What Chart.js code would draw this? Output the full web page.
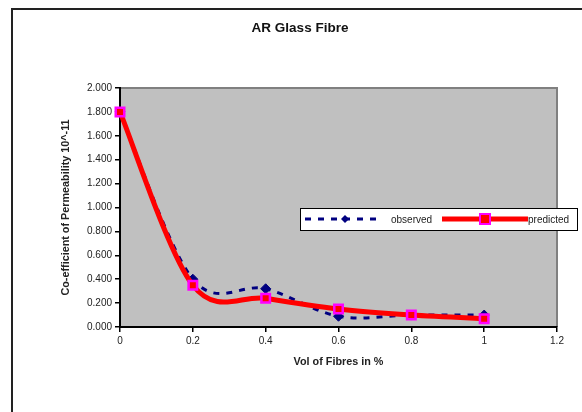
<!DOCTYPE html>
<html>
<head>
<meta charset="utf-8">
<script src="https://cdn.jsdelivr.net/npm/chart.js@4.4.1/dist/chart.umd.min.js"></script>
<style>
	html, body { margin: 0; padding: 0; background: #ffffff; }
	#wrap { width: 582px; height: 412px; position: relative; }
</style>
</head>
<body>
<div id="wrap"><canvas id="chart" width="582" height="412"></canvas></div>
<script>
// values
const volFibres = [0, 0.2, 0.4, 0.6, 0.8, 1.0];
const observed = [1.80, 0.40, 0.32, 0.09, 0.10, 0.10];
const predicted = [1.80, 0.35, 0.24, 0.15, 0.10, 0.07];
const xTickLabels = ['0', '0.2', '0.4', '0.6', '0.8', '1', '1.2'];
const yTickLabels = ['0.000', '0.200', '0.400', '0.600', '0.800', '1.000',
	'1.200', '1.400', '1.600', '1.800', '2.000'];

const FONT = '"Liberation Sans", Arial, sans-serif';
const NAVY = '#000080';
const RED = '#ff0000';
const MAGENTA = '#ff00ff';

// gray plot area with darker border on top and right, plus the outer frame
const backdrop = {
	id: 'backdrop',
	beforeDraw(chart) {
		const {ctx, chartArea: a} = chart;
		ctx.save();
		ctx.fillStyle = '#c0c0c0';
		ctx.fillRect(a.left, a.top, a.right - a.left, a.bottom - a.top);
		ctx.strokeStyle = '#808080';
		ctx.lineWidth = 2;
		ctx.beginPath();
		ctx.moveTo(a.left, a.top);
		ctx.lineTo(a.right, a.top);
		ctx.lineTo(a.right, a.bottom);
		ctx.stroke();
		// outer frame (left + top only, as in the reference)
		ctx.strokeStyle = '#222222';
		ctx.lineWidth = 2;
		ctx.beginPath();
		ctx.moveTo(12, 412);
		ctx.lineTo(12, 9);
		ctx.lineTo(582, 9);
		ctx.stroke();
		ctx.restore();
	}
};

// excel smooths lines catmull-rom style (control = neighbour span / 6),
// so swap chart.js' own control points for those once they are computed
const excelSmooth = {
	id: 'excelSmooth',
	beforeDatasetsDraw(chart) {
		chart.getSortedVisibleDatasetMetas().forEach((meta) => {
			const line = meta.dataset;
			if (!line) { return; }
			line.updateControlPoints(chart.chartArea, 'x');
			const pts = meta.data;
			pts.forEach((p, i) => {
				const prev = pts[i - 1] || p;
				const next = pts[i + 1] || p;
				const dx = (next.x - prev.x) / 6;
				const dy = (next.y - prev.y) / 6;
				p.cp1x = p.x - dx;
				p.cp1y = p.y - dy;
				p.cp2x = p.x + dx;
				p.cp2y = p.y + dy;
			});
			line._pointsUpdated = true;
			line._path = undefined;
		});
	}
};

// excel style horizontal legend box that sticks out past the plot area
const boxLegend = {
	id: 'boxLegend',
	afterDraw(chart) {
		const ctx = chart.ctx;
		const x = 300, y = 208, w = 277, h = 22;
		const cy = y + h / 2;
		ctx.save();
		ctx.fillStyle = '#ffffff';
		ctx.fillRect(x, y, w, h);
		ctx.strokeStyle = '#000000';
		ctx.lineWidth = 1;
		ctx.strokeRect(x + 0.5, y + 0.5, w, h);
		// observed sample
		ctx.strokeStyle = NAVY;
		ctx.lineWidth = 3;
		ctx.setLineDash([6, 7]);
		ctx.beginPath();
		ctx.moveTo(305, cy);
		ctx.lineTo(382, cy);
		ctx.stroke();
		ctx.setLineDash([]);
		ctx.fillStyle = NAVY;
		ctx.beginPath();
		ctx.moveTo(345, cy - 4);
		ctx.lineTo(349, cy);
		ctx.lineTo(345, cy + 4);
		ctx.lineTo(341, cy);
		ctx.closePath();
		ctx.fill();
		// predicted sample
		ctx.strokeStyle = RED;
		ctx.lineWidth = 5;
		ctx.beginPath();
		ctx.moveTo(442, cy);
		ctx.lineTo(528, cy);
		ctx.stroke();
		ctx.fillStyle = RED;
		ctx.fillRect(480, cy - 5, 10, 10);
		ctx.strokeStyle = MAGENTA;
		ctx.lineWidth = 2;
		ctx.strokeRect(480, cy - 5, 10, 10);
		ctx.fillStyle = '#222222';
		ctx.font = '10px ' + FONT;
		ctx.textBaseline = 'middle';
		ctx.fillText('observed', 391, cy + 1);
		ctx.fillText('predicted', 528, cy + 1);
		ctx.restore();
	}
};

const toPoints = (ys) => volFibres.map((x, i) => ({ x: x, y: ys[i] }));

new Chart(document.getElementById('chart'), {
	type: 'line',
	data: {
		datasets: [
			{
				label: 'observed',
				data: toPoints(observed),
				order: 1,
				borderColor: NAVY,
				borderWidth: 3,
				borderDash: [6, 7],
				tension: 0.4,
				pointStyle: 'rectRot',
				pointRadius: 5,
				pointBackgroundColor: NAVY,
				pointBorderColor: NAVY,
				pointBorderWidth: 1,
				clip: false
			},
			{
				label: 'predicted',
				data: toPoints(predicted),
				order: 0,
				borderColor: RED,
				borderWidth: 5,
				tension: 0.4,
				pointStyle: 'rect',
				pointRadius: 6,
				pointBackgroundColor: RED,
				pointBorderColor: MAGENTA,
				pointBorderWidth: 2.5,
				clip: false
			}
		]
	},
	options: {
		responsive: false,
		animation: false,
		events: [],
		layout: { padding: { left: 43, right: 25, top: 0, bottom: 0 } },
		plugins: {
			legend: { display: false },
			tooltip: { enabled: false },
			title: {
				display: true,
				text: 'AR Glass Fibre',
				color: '#111111',
				font: { family: FONT, size: 13.5, weight: 'bold' },
				padding: { top: 20, bottom: 51.8 }
			}
		},
		scales: {
			x: {
				type: 'linear',
				min: 0,
				max: 1.2,
				afterFit: (scale) => { scale.height = 85; },
				afterBuildTicks: (scale) => {
					scale.ticks = xTickLabels.map((t) => ({ value: parseFloat(t) }));
				},
				ticks: {
					color: '#222222',
					font: { family: FONT, size: 10 },
					padding: 3,
					maxRotation: 0,
					autoSkip: false,
					callback: (v, i) => xTickLabels[i]
				},
				grid: { drawOnChartArea: false, drawTicks: true, tickLength: 5, color: '#000000', lineWidth: 1.5 },
				border: { display: true, color: '#000000', width: 2 },
				title: {
					display: true,
					text: 'Vol of Fibres in %',
					color: '#222222',
					font: { family: FONT, size: 10.8, weight: 'bold' },
					padding: { top: 0, bottom: 43 }
				}
			},
			y: {
				type: 'linear',
				min: 0,
				max: 2,
				afterFit: (scale) => { scale.width = 77; },
				afterBuildTicks: (scale) => {
					scale.ticks = yTickLabels.map((t) => ({ value: parseFloat(t) }));
				},
				ticks: {
					color: '#222222',
					font: { family: FONT, size: 10 },
					padding: 3,
					autoSkip: false,
					callback: (v, i) => yTickLabels[i]
				},
				grid: { drawOnChartArea: false, drawTicks: true, tickLength: 5, color: '#000000', lineWidth: 1.5 },
				border: { display: true, color: '#000000', width: 2 },
				title: {
					display: true,
					text: 'Co-efficient of Permeability 10^-11',
					color: '#222222',
					font: { family: FONT, size: 10.8, weight: 'bold' },
					padding: { top: 17, bottom: 0 }
				}
			}
		}
	},
	plugins: [backdrop, excelSmooth, boxLegend]
});
</script>
</body>
</html>
